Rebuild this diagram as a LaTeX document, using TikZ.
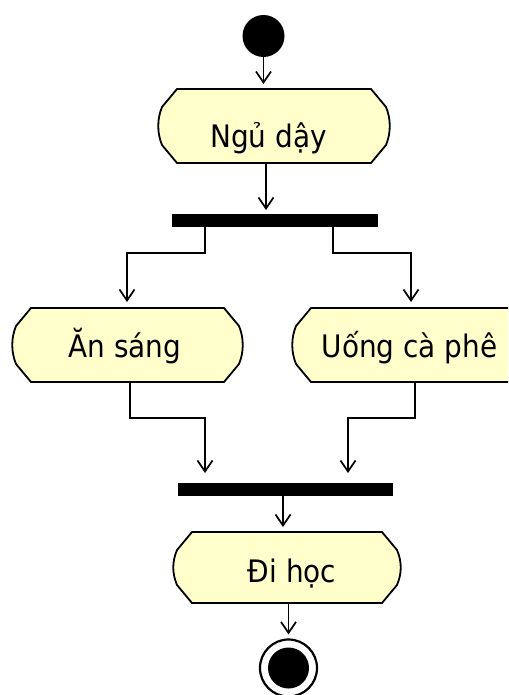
\documentclass[tikz,border=0pt]{standalone}
\usepackage{fontspec}
\setmainfont{DejaVu Sans Condensed}
\usetikzlibrary{arrows.meta,calc}
\definecolor{actfill}{RGB}{255,255,204}
\newcommand\ActOutline[4]{%
  \draw[actline] (#1+19,#2) -- (#3-19,#2) -- (#3-4,#2+18)
    .. controls (#3+1,#2+30) and (#3+1,#4-30) .. (#3-4,#4-18)
    -- (#3-19,#4) -- (#1+19,#4) -- (#1+4,#4-18)
    .. controls (#1-1,#4-30) and (#1-1,#2+30) .. (#1+4,#2+18) -- cycle;}
\tikzset{
  actline/.style={draw=black,fill=actfill,line width=1.8pt,line join=round},
  boxarea/.style={rectangle,inner sep=0pt,outer sep=0pt,draw=none},
  lbl/.style={inner sep=0pt,font=\fontsize{31}{36}\selectfont,anchor=base},
  bar/.style={rectangle,fill=black,inner sep=0pt,outer sep=0pt},
  arr/.style={draw,line width=1.7pt,-{Straight Barb[length=11pt,width=15pt,line width=1.7pt]}},
  conn/.style={draw,line width=1.7pt}
}
\begin{document}
\begin{tikzpicture}[x=1pt,y=-1pt]
\useasboundingbox (0,0) rectangle (508,695);
\clip (0,0) rectangle (508,695);
\fill[white] (0,0) rectangle (508,695);

% start
\node[circle,fill=black,inner sep=0pt,minimum size=42pt] (start) at (263.5,36) {};

% activity areas
\node[boxarea,minimum width=232pt,minimum height=74pt] (nd) at (274,126) {};
\node[boxarea,minimum width=231pt,minimum height=74pt] (as) at (127.5,345) {};
\node[boxarea,minimum width=236pt,minimum height=74pt] (uc) at (410,345) {};
\node[boxarea,minimum width=228pt,minimum height=71pt] (dh) at (287,567.5) {};

\ActOutline{158}{89}{390}{163}
\ActOutline{12}{308}{243}{382}
\ActOutline{292}{308}{528}{382}
\ActOutline{173}{532}{401}{603}

\node[lbl] (ndt) at (268.5,148) {Ngủ dậy};
\node[lbl] (ast) at (125,357) {Ăn sáng};
\node[lbl] (uct) at (409.5,357) {Uống cà phê};
\node[lbl] (dht) at (292,582) {Đi học};

% bars
\node[bar,minimum width=206pt,minimum height=13pt] (bar1) at (275,220.5) {};
\node[bar,minimum width=215pt,minimum height=13pt] (bar2) at (285.5,489.5) {};

% end
\node[circle,draw=black,line width=2.2pt,fill=white,inner sep=0pt,minimum size=57pt] (end) at (288.5,668) {};
\node[circle,fill=black,inner sep=0pt,minimum size=41pt] (endin) at (288.5,668) {};

% connectors
\draw[arr,shorten >=5pt] (start.south) -- (start.south |- nd.north);
\draw[arr,shorten >=4pt] ([xshift=-8pt]nd.south) -- ([xshift=-8pt]nd.south |- bar1.north);
\draw[arr,shorten >=6pt] ([xshift=-70pt]bar1.south) -- ++(0,26) -| ([xshift=-0.5pt]as.north);
\draw[arr,shorten >=6pt] ([xshift=58pt]bar1.south) -- ++(0,26) -| ([xshift=1pt]uc.north);
\draw[arr,shorten >=10pt] ([xshift=2.5pt]as.south) -- ++(0,36) -| ([xshift=-80.5pt]bar2.north);
\draw[arr,shorten >=10pt] ([xshift=5pt]uc.south) -- ++(0,36) -| ([xshift=62.5pt]bar2.north);
\draw[arr,shorten >=5pt] ([xshift=-2.5pt]bar2.south) -- ([xshift=-2.5pt]bar2.south |- dh.north);
\draw[arr,shorten >=4pt] ([xshift=1.5pt]dh.south) -- ([xshift=1.5pt]dh.south |- end.north);
\end{tikzpicture}
\end{document}
